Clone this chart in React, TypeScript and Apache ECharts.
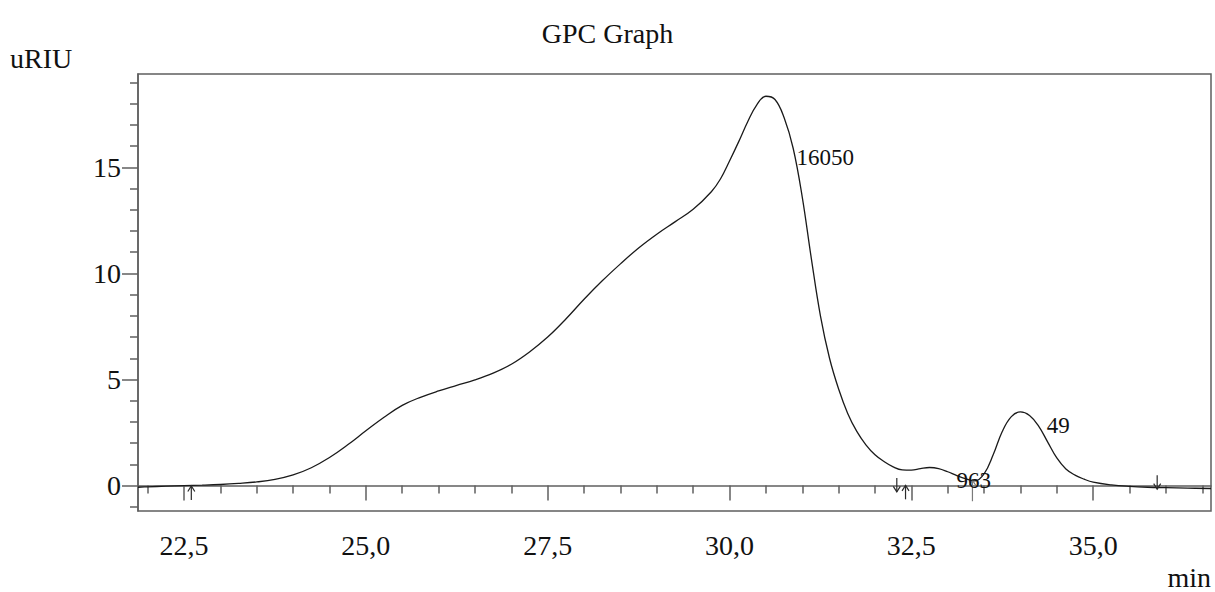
import React, { useEffect, useRef } from "react";
import * as echarts from "echarts";

const times = [
  21.867, 22.0, 22.25, 22.5, 22.75, 23.0, 23.25, 23.5, 23.75, 24.0,
  24.25, 24.5, 24.75, 25.0, 25.25, 25.5, 25.75, 26.0, 26.25, 26.5,
  26.75, 27.0, 27.25, 27.5, 27.75, 28.0, 28.25, 28.5, 28.75, 29.0,
  29.25, 29.5, 29.75, 29.875, 30.0, 30.125, 30.25, 30.375, 30.5, 30.625,
  30.75, 30.875, 31.0, 31.125, 31.25, 31.375, 31.5, 31.625, 31.75, 31.875,
  32.0, 32.125, 32.25, 32.375, 32.5, 32.625, 32.75, 32.875, 33.0, 33.125,
  33.25, 33.375, 33.5, 33.625, 33.75, 33.875, 34.0, 34.125, 34.25, 34.375,
  34.5, 34.625, 34.75, 34.875, 35.0, 35.25, 35.5, 35.75, 36.0, 36.3,
  36.62,
];
const signal = [
  -0.08, -0.06, -0.03, 0.0, 0.02, 0.05, 0.1, 0.17, 0.29, 0.5,
  0.84, 1.32, 1.92, 2.58, 3.22, 3.78, 4.16, 4.46, 4.72, 4.98,
  5.3, 5.72, 6.3, 7.0, 7.85, 8.78, 9.65, 10.45, 11.2, 11.85,
  12.43, 13.02, 13.85, 14.45, 15.3, 16.2, 17.15, 17.95, 18.35, 18.2,
  17.35, 15.9, 13.6, 10.7, 8.0, 6.0, 4.55, 3.4, 2.55, 1.92,
  1.45, 1.13, 0.88, 0.74, 0.73, 0.8, 0.85, 0.8, 0.65, 0.47,
  0.32, 0.22, 0.55, 1.45, 2.55, 3.25, 3.47, 3.3, 2.8, 2.05,
  1.3, 0.78, 0.49, 0.3, 0.16, 0.03, -0.04, -0.08, -0.1, -0.12,
  -0.14,
];

const xMajorTicks = [22.5, 25.0, 27.5, 30.0, 32.5, 35.0];
const xMinorTicks = [
  22.0, 23.0, 23.5, 24.0, 24.5, 25.5, 26.0, 26.5, 27.0, 28.0, 28.5, 29.0,
  29.5, 30.5, 31.0, 31.5, 32.0, 33.0, 33.5, 34.0, 34.5, 35.5, 36.0, 36.5,
];
const yMajorTicks = [0, 5, 10, 15];
const yMinorTicks = [-1, 1, 2, 3, 4, 6, 7, 8, 9, 11, 12, 13, 14, 16, 17, 18, 19];

const peakLabels = ["16050", "963", "49"];
const peakLabelTimes = [30.92, 33.12, 34.36];
const peakLabelLevels = [15.46, 0.23, 2.84];

const markerTimes = [22.6, 32.3, 32.42, 33.34, 35.88];
const markerLevels = [-0.02, -0.3, 0.01, 0.25, -0.17];
const markerDirections = ["up", "down", "up", "up", "down"];

const X_MIN = 21.867;
const X_MAX = 36.62;
const Y_MIN = -1.2;
const Y_MAX = 19.4;

const SERIF = "'Liberation Serif', 'Times New Roman', serif";
const AXIS_COLOR = "#5f5f5f";

export default function App() {
  const ref = useRef<HTMLDivElement>(null);

  useEffect(() => {
    if (!ref.current) return;
    const chart = echarts.init(ref.current, undefined, { renderer: "svg" });

    const fmt = (v: number) => v.toFixed(1).replace(".", ",");

    const baseX = {
      type: "value",
      min: X_MIN,
      max: X_MAX,
      position: "bottom",
      splitLine: { show: false },
    };
    const baseY = {
      type: "value",
      min: Y_MIN,
      max: Y_MAX,
      position: "left",
      splitLine: { show: false },
    };

    const option: any = {
      animation: false,
      backgroundColor: "#ffffff",
      title: {
        text: "GPC Graph",
        left: "center",
        top: 14,
        textStyle: {
          fontFamily: SERIF,
          fontSize: 28,
          fontWeight: "normal",
          color: "#111",
        },
      },
      grid: {
        left: 138,
        top: 74,
        right: 4,
        bottom: 81,
        show: true,
        borderColor: AXIS_COLOR,
        borderWidth: 1.5,
        backgroundColor: "transparent",
      },
      xAxis: [
        {
          ...baseX,
          axisLine: { show: true, lineStyle: { color: AXIS_COLOR, width: 1.5 } },
          axisTick: {
            show: true,
            customValues: xMajorTicks,
            length: 15,
            lineStyle: { color: AXIS_COLOR, width: 1.5 },
          },
          axisLabel: {
            show: true,
            customValues: xMajorTicks,
            formatter: (v: number) => fmt(v),
            margin: 20,
            fontFamily: SERIF,
            fontSize: 28,
            color: "#111",
          },
        },
        {
          ...baseX,
          axisLine: { show: false },
          axisTick: {
            show: true,
            customValues: xMinorTicks,
            length: 8,
            lineStyle: { color: AXIS_COLOR, width: 1.5 },
          },
          axisLabel: { show: false },
        },
      ],
      yAxis: [
        {
          ...baseY,
          axisLine: { show: true, lineStyle: { color: AXIS_COLOR, width: 1.5 } },
          axisTick: {
            show: true,
            customValues: yMajorTicks,
            length: 16,
            lineStyle: { color: AXIS_COLOR, width: 1.5 },
          },
          axisLabel: {
            show: true,
            customValues: yMajorTicks,
            margin: 17,
            fontFamily: SERIF,
            fontSize: 28,
            color: "#111",
          },
        },
        {
          ...baseY,
          axisLine: { show: false },
          axisTick: {
            show: true,
            customValues: yMinorTicks,
            length: 8,
            lineStyle: { color: AXIS_COLOR, width: 1.5 },
          },
          axisLabel: { show: false },
        },
      ],
      graphic: [
        {
          type: "text",
          x: 10,
          y: 58.5,
          style: {
            text: "uRIU",
            fontFamily: SERIF,
            fontSize: 28,
            fill: "#111",
            align: "left",
            verticalAlign: "middle",
          },
        },
        {
          type: "text",
          x: 1211,
          y: 577.5,
          style: {
            text: "min",
            fontFamily: SERIF,
            fontSize: 28,
            fill: "#111",
            align: "right",
            verticalAlign: "middle",
          },
        },
      ],
      series: [
        {
          type: "line",
          xAxisIndex: 0,
          yAxisIndex: 0,
          data: times.map((t, i) => [t, signal[i]]),
          showSymbol: false,
          symbol: "none",
          smooth: 0.4,
          lineStyle: { color: "#1a1a1a", width: 1.3 },
          z: 3,
        },
        {
          type: "custom",
          xAxisIndex: 0,
          yAxisIndex: 0,
          data: markerTimes.map((t, i) => [
            t,
            markerLevels[i],
            markerDirections[i] === "up" ? 1 : -1,
          ]),
          renderItem: (params: any, api: any) => {
            const p = api.coord([api.value(0), api.value(1)]);
            const dir = api.value(2);
            const gray = params.dataIndex === 3;
            const len = gray ? 21 : 14;
            const color = gray ? "#7a7a7a" : "#2a2a2a";
            const s = dir > 0 ? 1 : -1;
            const x = p[0];
            const y = p[1];
            return {
              type: "group",
              children: [
                {
                  type: "line",
                  shape: { x1: x, y1: y, x2: x, y2: y + s * len },
                  style: { stroke: color, lineWidth: 1.2 },
                },
                {
                  type: "polyline",
                  shape: {
                    points: [
                      [x - 3.5, y + s * 5.5],
                      [x, y],
                      [x + 3.5, y + s * 5.5],
                    ],
                  },
                  style: { stroke: color, lineWidth: 1.2, fill: "none" },
                },
              ],
            };
          },
          z: 4,
        },
        {
          type: "custom",
          xAxisIndex: 0,
          yAxisIndex: 0,
          data: peakLabelTimes.map((t, i) => [t, peakLabelLevels[i]]),
          renderItem: (params: any, api: any) => {
            const p = api.coord([api.value(0), api.value(1)]);
            return {
              type: "text",
              x: p[0],
              y: p[1],
              style: {
                text: peakLabels[params.dataIndex],
                fontFamily: SERIF,
                fontSize: 23,
                fill: "#111",
                align: "left",
                verticalAlign: "middle",
              },
            };
          },
          z: 5,
        },
      ],
    };

    chart.setOption(option);
    return () => chart.dispose();
  }, []);

  return (
    <div
      ref={ref}
      style={{ position: "fixed", left: 0, top: 0, width: 1215, height: 592 }}
    />
  );
}
